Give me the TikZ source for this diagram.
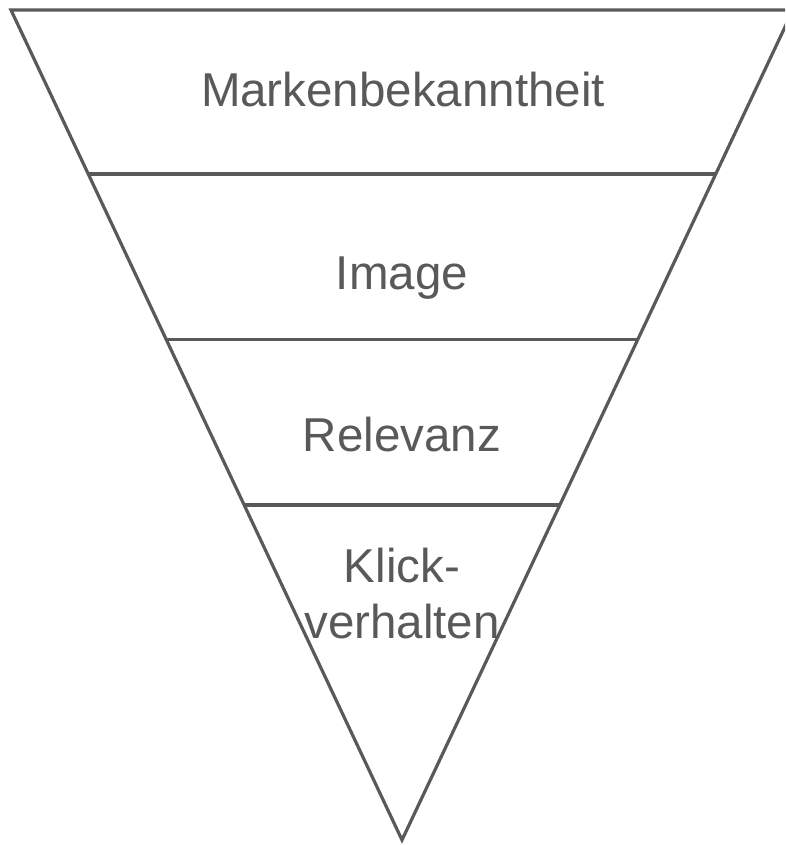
\documentclass[tikz,border=0pt]{standalone}
\usepackage{fontspec}
\setmainfont{Liberation Sans}
\usetikzlibrary{calc}
\definecolor{funnelgray}{HTML}{595959}
\tikzset{
  edge/.style={draw=funnelgray, line width=3.2pt, line join=miter},
  label/.style={text=funnelgray, font=\fontsize{47.5}{56}\selectfont, inner sep=0pt, anchor=base, align=center}
}
\begin{document}
\begin{tikzpicture}[x=1pt,y=-1pt]
\useasboundingbox (0,0) rectangle (785,845);
\clip (0,0) rectangle (785,845);
\coordinate (tl) at (11,10);
\coordinate (tr) at (793,10);
\coordinate (ap) at (402,840);
\draw[edge] (tl) -- (tr) -- (ap) -- cycle;
\coordinate (l1) at ($(tl)!{(174-10)/830}!(ap)$);
\coordinate (r1) at ($(tr)!{(174-10)/830}!(ap)$);
\coordinate (l2) at ($(tl)!{(339.5-10)/830}!(ap)$);
\coordinate (r2) at ($(tr)!{(339.5-10)/830}!(ap)$);
\coordinate (l3) at ($(tl)!{(505-10)/830}!(ap)$);
\coordinate (r3) at ($(tr)!{(505-10)/830}!(ap)$);
\draw[edge] (l1) -- (r1);
\draw[edge] (l2) -- (r2);
\draw[edge] (l3) -- (r3);
\node[label] (t1) at (403,106.7) {Markenbekanntheit};
\node[label] (t2) at (402,289.3) {Image};
\node[label] (t3) at (402,451.7) {Relevanz};
\node[label] (t4a) at (402,582) {Klick-};
\node[label] (t4b) at (402,638) {verhalten};
\end{tikzpicture}
\end{document}
